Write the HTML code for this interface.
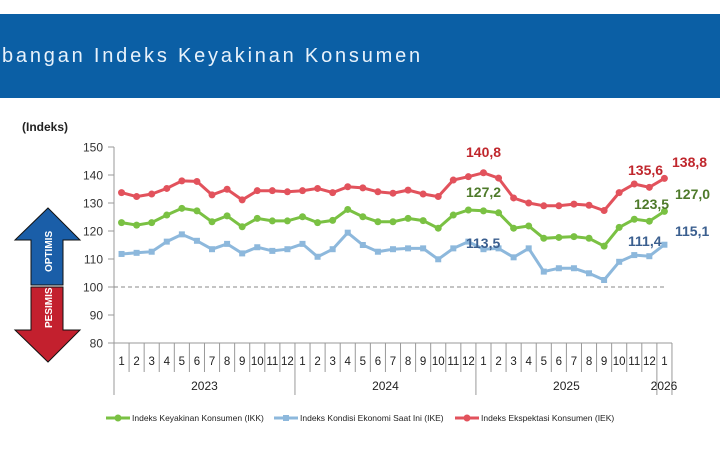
<!DOCTYPE html>
<html><head><meta charset="utf-8"><style>
body{margin:0;width:720px;height:447px;overflow:hidden;background:#fff;font-family:"Liberation Sans",sans-serif}
</style></head><body>
<svg id="s" width="720" height="447" xmlns="http://www.w3.org/2000/svg" font-family="Liberation Sans, sans-serif">
<rect x="0" y="14" width="720" height="84" fill="#0b5fa5"/>
<text x="2" y="62" fill="#e8f2fb" font-size="20" letter-spacing="2.8">bangan Indeks Keyakinan Konsumen</text>
<text x="22" y="131" font-size="12" font-weight="bold" fill="#222">(Indeks)</text>
<polygon points="48,208 80,240 63,240 63,285 31,285 31,240 15,240" fill="#1a5ea8" stroke="#111" stroke-width="1"/>
<polygon points="31,287 63,287 63,330 80,330 48,362 15,330 31,330" fill="#c3202e" stroke="#111" stroke-width="1"/>
<text transform="translate(52,272) rotate(-90)" fill="#fff" font-size="10" font-weight="bold">OPTIMIS</text>
<text transform="translate(52,328) rotate(-90)" fill="#fff" font-size="10" font-weight="bold">PESIMIS</text>
<g id="g"></g>
</svg>
<script>
var g=document.getElementById('g'),h='';
function Y(v){return 147+(150-v)*2.8}
var w=15.08,x0=114;function X(i){return x0+w*(i+0.5)}
for(var v=80;v<=150;v+=10){h+='<text x="103" y="'+(Y(v)+4.5)+'" font-size="12" fill="#333" text-anchor="end">'+v+'</text><line x1="108" x2="114" y1="'+Y(v)+'" y2="'+Y(v)+'" stroke="#999"/>';}
h+='<line x1="114" x2="114" y1="147" y2="395" stroke="#999"/><line x1="114" x2="672" y1="343" y2="343" stroke="#999"/>';
h+='<line x1="114" x2="666" y1="287" y2="287" stroke="#888" stroke-dasharray="4,3"/>';
for(var i=0;i<=37;i++){var x=x0+w*i;var yr=(i%12==0||i==37);h+='<line x1="'+x+'" x2="'+x+'" y1="343" y2="'+(yr?395:372)+'" stroke="#999"/>';
 if(i<37)h+='<text x="'+X(i)+'" y="365" font-size="11.5" fill="#222" text-anchor="middle">'+(i%12+1)+'</text>';}
[['2023',0,12],['2024',12,24],['2025',24,36]].forEach(function(a){h+='<text x="'+(x0+w*(a[1]+a[2])/2)+'" y="390" font-size="12" fill="#222" text-anchor="middle">'+a[0]+'</text>'});
h+='<text x="664" y="390" font-size="12" fill="#222" text-anchor="middle">2026</text>';
var R=[133.7,132.3,133.2,135.2,137.9,137.7,132.9,134.9,131.1,134.4,134.4,134,134.4,135.2,133.7,135.8,135.4,134,133.5,134.6,133.2,132.3,138.2,139.4,140.8,138.9,131.8,130,129,129,129.6,129.2,127.3,133.7,136.8,135.6,138.8];
var G=[123,122.1,123,125.7,128.1,127.2,123.3,125.4,121.5,124.5,123.6,123.6,125.1,123,123.8,127.7,125.1,123.3,123.3,124.5,123.7,121,125.7,127.5,127.2,126.5,121,121.8,117.4,117.7,118,117.4,114.6,121.3,124.2,123.5,127];
var B=[111.8,112.2,112.6,116.2,118.8,116.5,113.5,115.4,112,114.2,112.9,113.5,115.4,110.8,113.5,119.4,115,112.6,113.5,113.8,113.8,109.9,113.8,116.2,113.5,113.8,110.6,113.8,105.5,106.7,106.7,104.9,102.5,109,111.4,111,115.1];
function ser(d,c,sq){var p=d.map(function(v,i){return X(i).toFixed(1)+','+Y(v).toFixed(1)}).join(' ');
 h+='<polyline points="'+p+'" fill="none" stroke="'+c+'" stroke-width="3"/>';
 d.forEach(function(v,i){h+=sq?'<rect x="'+(X(i)-3)+'" y="'+(Y(v)-3)+'" width="6" height="6" fill="'+c+'"/>':'<circle cx="'+X(i)+'" cy="'+Y(v)+'" r="3.5" fill="'+c+'"/>'});}
ser(B,'#8db8dc',1);ser(G,'#7ac143',0);ser(R,'#e2525c',0);
function lab(x,y,t,c){h+='<text x="'+x+'" y="'+y+'" font-size="14" font-weight="bold" fill="'+c+'">'+t+'</text>'}
lab(466,157,'140,8','#c0272d');lab(466,197,'127,2','#4e7a2a');lab(466,248,'113,5','#3b5f8f');
lab(628,175,'135,6','#c0272d');lab(672,167,'138,8','#c0272d');
lab(634,209,'123,5','#4e7a2a');lab(675,199,'127,0','#4e7a2a');
lab(628,246,'111,4','#3b5f8f');lab(675,236,'115,1','#3b5f8f');
function leg(x,c,t,sq){h+='<line x1="'+x+'" x2="'+(x+24)+'" y1="418" y2="418" stroke="'+c+'" stroke-width="3"/>'+(sq?'<rect x="'+(x+9)+'" y="415" width="6" height="6" fill="'+c+'"/>':'<circle cx="'+(x+12)+'" cy="418" r="3.5" fill="'+c+'"/>')+'<text x="'+(x+26)+'" y="421" font-size="8.5" fill="#222">'+t+'</text>'}
leg(106,'#7ac143','Indeks Keyakinan Konsumen (IKK)',0);
leg(274,'#8db8dc','Indeks Kondisi Ekonomi Saat Ini (IKE)',1);
leg(455,'#e2525c','Indeks Ekspektasi Konsumen (IEK)',0);
g.innerHTML=h;
</script>
</body></html>
